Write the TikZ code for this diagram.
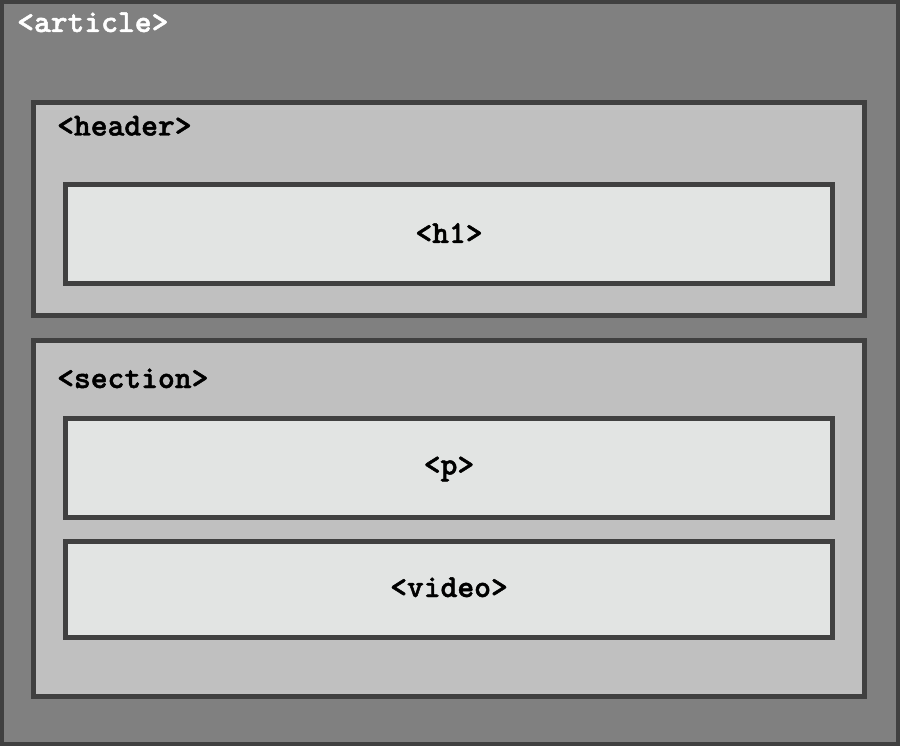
\documentclass[tikz,border=0pt]{standalone}
\usepackage{fontspec}
\newfontfamily\tagfont{lmmonolt10-bold.otf}[FakeBold=1.5]
\definecolor{bordergray}{HTML}{404040}
\definecolor{outerfill}{HTML}{808080}
\definecolor{midfill}{HTML}{C0C0C0}
\definecolor{innerfill}{HTML}{E2E4E3}
\tikzset{
  outerbox/.style={draw=bordergray, fill=outerfill, line width=4pt},
  midbox/.style={draw=bordergray, fill=midfill, line width=5pt},
  innerbox/.style={draw=bordergray, fill=innerfill, line width=5pt},
  tag/.style={font=\tagfont\fontsize{32}{35}\selectfont, inner sep=0pt},
}
\begin{document}
\begin{tikzpicture}[x=1pt,y=-1pt]
\useasboundingbox (0,0) rectangle (900,746);
\draw[outerbox] (2,2) rectangle (898,744);
\draw[midbox] (33.5,102.5) rectangle (864.5,315.5);
\draw[innerbox] (65.5,184.5) rectangle (832.5,283.5);
\draw[midbox] (33.5,340.5) rectangle (864.5,696.5);
\draw[innerbox] (65.5,418.5) rectangle (832.5,517.5);
\draw[innerbox] (65.5,541.5) rectangle (832.5,637.5);
\node[tag, text=white, anchor=base west] (article) at (17,32) {<article>};
\node[tag, anchor=base west] (header) at (57,135.5) {<header>};
\node[tag, anchor=base] (h1) at (449,243) {<h1>};
\node[tag, anchor=base west] (section) at (57,388) {<section>};
\node[tag, anchor=base] (p) at (449,474.5) {<p>};
\node[tag, anchor=base] (video) at (449,597) {<video>};
\end{tikzpicture}
\end{document}
